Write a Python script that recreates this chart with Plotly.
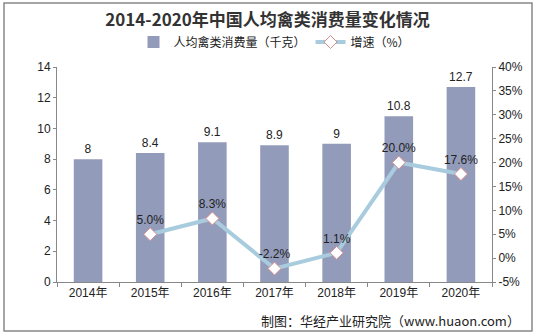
import plotly.graph_objects as go

years = ["2014年", "2015年", "2016年", "2017年", "2018年", "2019年", "2020年"]
consumption = [8, 8.4, 9.1, 8.9, 9, 10.8, 12.7]
growth = [None, 5.0, 8.3, -2.2, 1.1, 20.0, 17.6]
growth_labels = ["", "5.0%", "8.3%", "-2.2%", "1.1%", "20.0%", "17.6%"]
left_ticks = [0, 2, 4, 6, 8, 10, 12, 14]
right_ticks = [-5, 0, 5, 10, 15, 20, 25, 30, 35, 40]
right_tick_text = [f"{v}%" for v in right_ticks]

font_main = "Liberation Sans, Arial, Noto Sans CJK SC, sans-serif"
font_cjk = "Noto Sans CJK SC, sans-serif"

fig = go.Figure()
fig.add_trace(go.Bar(
    x=years, y=consumption, name="人均禽类消费量（千克）",
    marker=dict(color="#939BBA", line=dict(width=0)),
    width=0.46,
    text=[str(v) for v in consumption], textposition="outside",
    textfont=dict(size=12, color="#222", family=font_main),
    cliponaxis=False,
))
fig.add_trace(go.Scatter(
    x=years, y=growth, name="增速（%）", yaxis="y2",
    mode="lines+markers+text",
    line=dict(color="#A8CCDE", width=4),
    marker=dict(symbol="diamond", size=10, color="white",
                line=dict(color="#D98C8C", width=1)),
    text=growth_labels, textposition="top center",
    textfont=dict(size=12, color="#222", family=font_main),
    cliponaxis=False,
))

fig.update_layout(
    width=535, height=334,
    margin=dict(l=57, r=43, t=67, b=52, autoexpand=False),
    paper_bgcolor="white", plot_bgcolor="white",
    showlegend=True,
    legend=dict(orientation="h", x=0.5, xanchor="center", y=1 - 42 / 334, yanchor="middle",
                yref="container", font=dict(size=12, family=font_cjk, color="#222"),
                bgcolor="rgba(0,0,0,0)"),
    title=dict(text="<b>2014-2020年中国人均禽类消费量变化情况</b>", x=0.5, xanchor="center",
               y=1 - 20 / 334, yanchor="middle",
               font=dict(size=17, family=font_cjk, color="#333")),
    xaxis=dict(showline=True, linecolor="#888", linewidth=1,
               ticks="outside", tickson="boundaries", ticklen=4, tickcolor="#888",
               tickfont=dict(size=12, family=font_main, color="#222")),
    yaxis=dict(range=[0, 14], tickvals=left_ticks, showgrid=False, zeroline=False,
               showline=True, linecolor="#888", linewidth=1,
               ticks="outside", ticklen=3, tickcolor="#888",
               tickfont=dict(size=12, family=font_main, color="#222")),
    yaxis2=dict(range=[-5, 40], tickvals=right_ticks, ticktext=right_tick_text,
                overlaying="y", side="right", showgrid=False, zeroline=False,
                showline=True, linecolor="#888", linewidth=1,
                ticks="outside", ticklen=3, tickcolor="#888",
                tickfont=dict(size=12, family=font_main, color="#222")),
    bargap=0.54,
)

fig.add_annotation(text="制图：华经产业研究院（www.huaon.com）", xref="paper", yref="paper",
                   x=1.07, y=-38 / 215, xanchor="right", yanchor="middle", showarrow=False,
                   font=dict(size=13, family=font_cjk, color="#222"))
fig.add_shape(type="rect", xref="paper", yref="paper",
              x0=-53 / 435, x1=1 + 40 / 435, y0=-49 / 215, y1=1 + 64 / 215,
              line=dict(color="#888", width=1.5))

fig.write_html("out.html")
